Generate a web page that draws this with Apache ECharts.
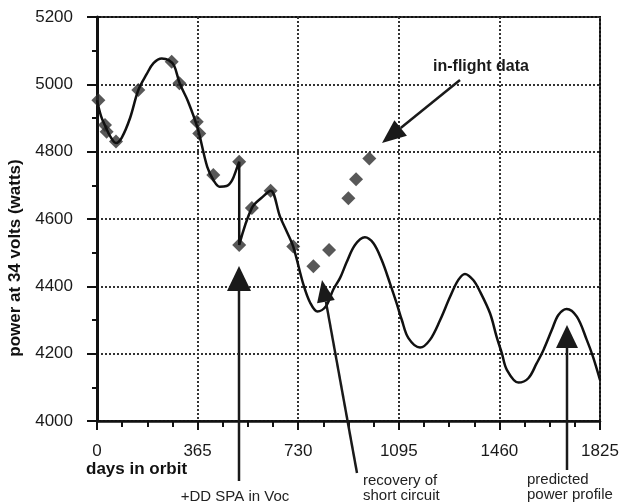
<!DOCTYPE html>
<html>
<head>
    <meta charset="utf-8">
    <title>Power at 34 volts</title>
    <script src="https://cdnjs.cloudflare.com/ajax/libs/echarts/6.0.0/echarts.min.js"></script>
    <style>
        body { margin: 0; background: #fff; }
        #chart { width: 622px; height: 504px; }
    </style>
</head>
<body>
    <div id="chart"></div>
    <script>
        // predicted power profile (day, watts)
        var profileDays = [0, 15, 30, 45, 69, 90, 120, 150, 180, 205, 235, 260, 280, 300, 330, 365, 400, 425, 445, 470, 490, 507, 516,
            516, 562, 600, 630, 664, 690, 712, 749, 773, 800, 830, 857, 882, 906, 936, 972, 1003, 1033, 1063, 1087, 1106, 1130, 1172,
            1208, 1245, 1281, 1311, 1335, 1365, 1390, 1426, 1450, 1469, 1487, 1529, 1565, 1595, 1620, 1650, 1674, 1704, 1741, 1777, 1800, 1825];
        var profileWatts = [4953, 4905, 4876, 4850, 4826, 4842, 4900, 4983, 5030, 5063, 5077, 5072, 5055, 5003, 4950, 4870, 4755, 4712, 4696, 4698, 4715, 4750, 4770,
            4523, 4633, 4665, 4684, 4607, 4560, 4518, 4405, 4352, 4325, 4340, 4390, 4425, 4472, 4523, 4546, 4528, 4478, 4409, 4350, 4300, 4246, 4218,
            4241, 4300, 4369, 4419, 4437, 4419, 4384, 4320, 4250, 4201, 4152, 4114, 4127, 4171, 4211, 4270, 4315, 4333, 4310, 4241, 4190, 4122];

        // in-flight data points
        var flightDays = [5, 29, 35, 69, 150, 271, 299, 362, 371, 422, 516, 516, 562, 630, 712, 785, 842, 912, 940, 988];
        var flightWatts = [4953, 4879, 4859, 4830, 4983, 5067, 5003, 4889, 4854, 4731, 4770, 4523, 4633, 4684, 4518, 4460, 4508, 4662, 4718, 4780];

        var xTicks = [0, 365, 730, 1095, 1460, 1825];
        var yTicks = [4000, 4200, 4400, 4600, 4800, 5000, 5200];

        var font = 'Liberation Sans, Arial, sans-serif';
        var chart = echarts.init(document.getElementById('chart'));

        function zip(a, b) {
            return a.map(function (v, i) { return [v, b[i]]; });
        }

        // arrow made of a shaft and a filled head, pixel coords
        function arrow(x1, y1, x2, y2, len, half) {
            var dx = x2 - x1, dy = y2 - y1;
            var d = Math.sqrt(dx * dx + dy * dy);
            var ux = dx / d, uy = dy / d;
            var bx = x2 - ux * len, by = y2 - uy * len;
            return [
                { type: 'line', shape: { x1: x1, y1: y1, x2: bx, y2: by }, style: { stroke: '#1a1a1a', lineWidth: 2.5 }, z: 100 },
                { type: 'polygon', shape: { points: [[x2, y2], [bx - uy * half, by + ux * half], [bx + uy * half, by - ux * half]] },
                  style: { fill: '#1a1a1a' }, z: 100 }
            ];
        }

        function label(text, x, y, opts) {
            return {
                type: 'text', x: x, y: y, z: 100,
                style: Object.assign({ text: text, font: '15px ' + font, fill: '#222', textVerticalAlign: 'middle' }, opts || {})
            };
        }

        var graphics = []
            .concat(arrow(460, 80, 382, 143, 24, 10))
            .concat(arrow(239, 481, 239, 266, 25, 12))
            .concat(arrow(357, 473, 322, 280, 22, 9))
            .concat(arrow(567, 470, 567, 325, 23, 11))
            .concat([
                label('in-flight data', 481, 67, { font: 'bold 16px ' + font, textAlign: 'center', fill: '#1a1a1a' }),
                label('+DD SPA in Voc', 235, 497, { textAlign: 'center' }),
                label('recovery of', 363, 481, {}),
                label('short circuit', 363, 496, {}),
                label('predicted', 527, 480, {}),
                label('power profile', 527, 495, {}),
                label('days in orbit', 86, 469, { font: 'bold 17px ' + font, fill: '#111' }),
                { type: 'text', x: 15, y: 258, rotation: Math.PI / 2, z: 100,
                  style: { text: 'power at 34 volts (watts)', font: 'bold 17px ' + font, fill: '#111', textAlign: 'center', textVerticalAlign: 'middle' } }
            ]);

        var dotted = { show: true, lineStyle: { color: '#333', width: 2, type: [2, 2] } };
        var plain = function (v) { return String(v); };

        chart.setOption({
            animation: false,
            grid: { left: 97, right: 22, top: 17, bottom: 83, show: true, borderColor: '#111', borderWidth: 2 },
            xAxis: {
                type: 'value', min: xTicks[0], max: xTicks[xTicks.length - 1], interval: 365,
                axisLine: { lineStyle: { color: '#111', width: 2.5 } },
                axisTick: { length: 9, lineStyle: { color: '#111', width: 2 } },
                minorTick: { show: true, splitNumber: 4, length: 6, lineStyle: { color: '#111', width: 2 } },
                axisLabel: { margin: 22, fontSize: 17, fontFamily: font, color: '#1a1a1a', formatter: plain },
                splitLine: dotted
            },
            yAxis: {
                type: 'value', min: yTicks[0], max: yTicks[yTicks.length - 1], interval: 200,
                axisLine: { show: true, lineStyle: { color: '#111', width: 3 } },
                axisTick: { show: true, length: 10, lineStyle: { color: '#111', width: 2 } },
                minorTick: { show: true, splitNumber: 2, length: 5, lineStyle: { color: '#111', width: 2 } },
                axisLabel: { margin: 24, fontSize: 17, fontFamily: font, color: '#1a1a1a', formatter: plain },
                splitLine: dotted
            },
            series: [
                {
                    type: 'scatter', data: zip(flightDays, flightWatts),
                    symbol: 'diamond', symbolSize: 14,
                    itemStyle: { color: '#2e2e2e' }, z: 3
                },
                {
                    type: 'line', data: zip(profileDays, profileWatts),
                    showSymbol: false, smooth: 0.35,
                    lineStyle: { color: '#111', width: 2.5 }, z: 4
                }
            ],
            graphic: graphics
        });
    </script>
</body>
</html>
